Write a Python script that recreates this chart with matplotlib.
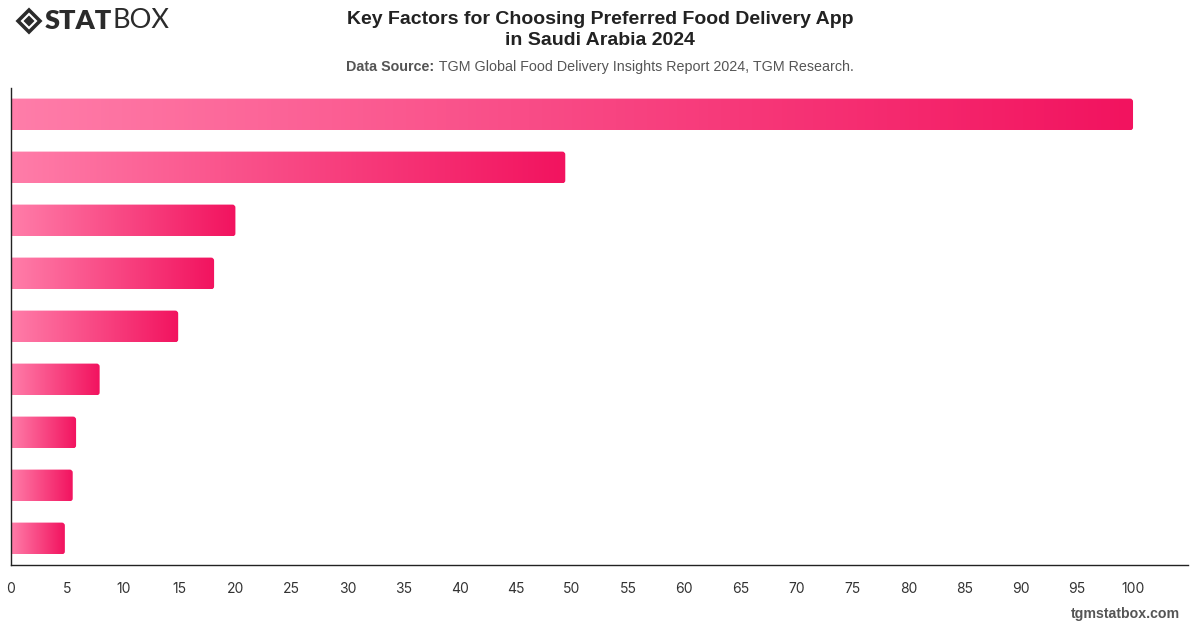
import numpy as np
import matplotlib
matplotlib.use("Agg")
import matplotlib.pyplot as plt
from matplotlib.patches import FancyBboxPatch, Polygon
from matplotlib.colors import LinearSegmentedColormap

# Data (bars top to bottom; category labels are not shown in the reference)
values = [100.0, 49.4, 20.0, 18.1, 14.9, 7.9, 5.8, 5.5, 4.8]
xticks = list(range(0, 101, 5))

title = "Key Factors for Choosing Preferred Food Delivery App\nin Saudi Arabia 2024"
source_bold = "Data Source:"
source_rest = " TGM Global Food Delivery Insights Report 2024, TGM Research."

plt.rcParams['font.family'] = ['Liberation Sans', 'DejaVu Sans']

fig = plt.figure(figsize=(12, 6.28), dpi=100)
ax = fig.add_axes([11/1200, (628-565)/628, (1188-11)/1200, (565-88)/628])

cmap = LinearSegmentedColormap.from_list("pinkgrad", ["#FF7DA9", "#F2135F"])
grad = np.linspace(0, 1, 256).reshape(1, -1)

n = len(values)
ax.set_xlim(0, 104.9)
ax.set_ylim(n - 0.5, -0.5)
bh = 0.6
for i, v in enumerate(values):
    y0 = i - bh / 2
    patch = FancyBboxPatch((-1, y0), v + 1, bh,
                           boxstyle="round,pad=0,rounding_size=0.27",
                           mutation_aspect=0.21,
                           facecolor="none", edgecolor="none")
    ax.add_patch(patch)
    im = ax.imshow(grad, cmap=cmap, aspect="auto",
                   extent=[0, v, y0 + bh, y0], interpolation="bilinear", zorder=2)
    im.set_clip_path(patch)

ax.set_xlim(0, 104.9)
ax.set_ylim(n - 0.5, -0.5)
ax.set_xticks(xticks)
ax.set_xticklabels([str(t) for t in xticks], fontsize=10, color="#333333",
                   family=['Inter', 'DejaVu Sans'])
ax.tick_params(axis='x', length=0, pad=12.5)
ax.set_yticks([])
for s in ['top', 'right']:
    ax.spines[s].set_visible(False)
for s in ['left', 'bottom']:
    ax.spines[s].set_color("#222222")
    ax.spines[s].set_linewidth(1.0)

# Title and source
fig.text(0.5, 1 - 30/628, title, ha="center", va="center", fontsize=14,
         fontweight="bold", color="#222222", linespacing=1.35)
t1 = fig.text(0, 1 - 67/628, source_bold, ha="left", va="center", fontsize=10.3,
              fontweight="bold", color="#555555")
t2 = fig.text(0, 1 - 67/628, source_rest, ha="left", va="center", fontsize=10.3,
              color="#555555")
fig.canvas.draw()
r = fig.canvas.get_renderer()
w1 = t1.get_window_extent(r).width
w2 = t2.get_window_extent(r).width
start = 600 - (w1 + w2) / 2
t1.set_x(start / 1200)
t2.set_x((start + w1) / 1200)

# Footer
fig.text(1180/1200, 1 - 614/628, "tgmstatbox.com", ha="right", va="center",
         fontsize=10.2, fontweight="bold", color="#555555")

# Logo
cx, cy, s = 29, 21, 13.5
def P(pts):
    return [((x) / 1200, 1 - (y) / 628) for x, y in pts]
for size, col in [(s, "#2b2b2b"), (8.5, "white"), (5.5, "#2b2b2b")]:
    fig.patches.append(Polygon(P([(cx - size, cy), (cx, cy - size), (cx + size, cy), (cx, cy + size)]),
                               closed=True, facecolor=col, edgecolor="none",
                               transform=fig.transFigure, figure=fig))
ts = fig.text(45/1200, 1 - 21/628, "STAT", ha="left", va="center", fontsize=19.5,
              fontweight="heavy", color="#2b2b2b", family=['Lato', 'DejaVu Sans'])
fig.canvas.draw()
ws = ts.get_window_extent(r).width
fig.text((45 + ws) / 1200, 1 - 21/628, "BOX", ha="left", va="center", fontsize=19.5,
         fontweight="normal", color="#2b2b2b", family=['Lato', 'DejaVu Sans'])

fig.savefig("out.png", dpi=100)
